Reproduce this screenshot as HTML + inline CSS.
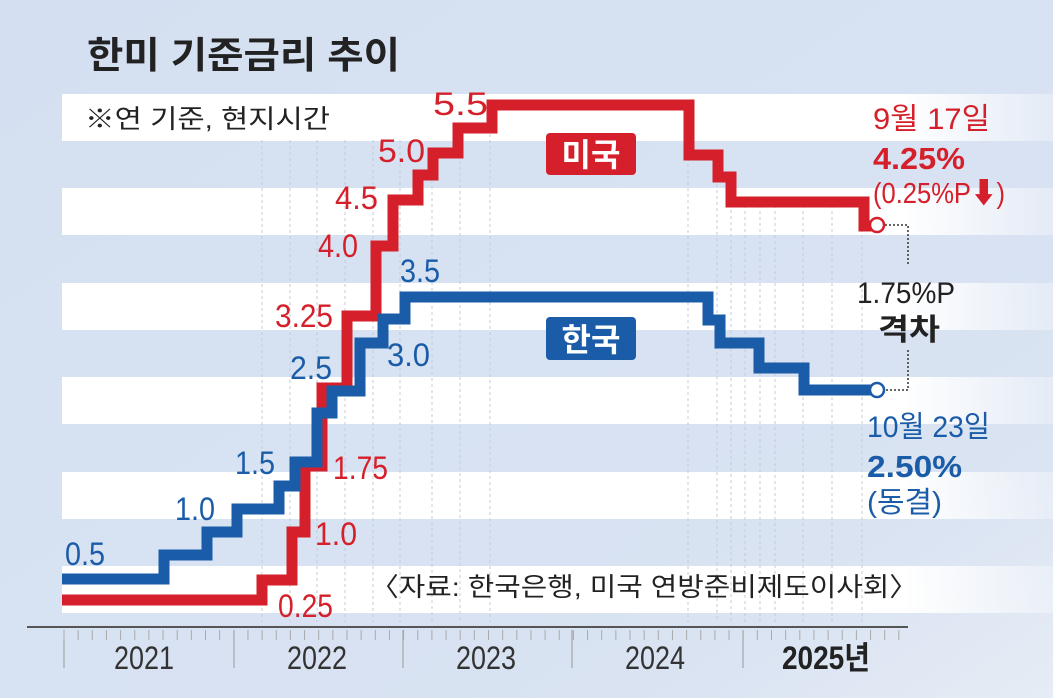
<!DOCTYPE html>
<html><head><meta charset="utf-8"><style>
html,body{margin:0;padding:0;width:1053px;height:698px;overflow:hidden;background:#d6e1f1}
svg{display:block}
.n{font-family:"Liberation Sans",sans-serif;font-size:32px}
.k{font-family:"Liberation Sans","Noto Sans CJK KR",sans-serif}
</style></head><body>
<svg width="1053" height="698" viewBox="0 0 1053 698" xmlns="http://www.w3.org/2000/svg">
<defs>
<linearGradient id="bg" x1="0" y1="0" x2="1" y2="1">
<stop offset="0" stop-color="#d4e0f1"/><stop offset="0.8" stop-color="#d9e3f2"/><stop offset="1" stop-color="#e6ecf5"/>
</linearGradient>
<linearGradient id="wb" x1="0" y1="0" x2="1" y2="0">
<stop offset="0" stop-color="#fff"/><stop offset="0.85" stop-color="#fff"/><stop offset="1" stop-color="#fff" stop-opacity="0.3"/>
</linearGradient>
</defs>
<rect width="1053" height="698" fill="url(#bg)"/>
<g fill="url(#wb)">
<rect x="62" y="94" width="991" height="47"/>
<rect x="62" y="188" width="991" height="47"/>
<rect x="62" y="283" width="991" height="47"/>
<rect x="62" y="377" width="991" height="47"/>
<rect x="62" y="472" width="991" height="47"/>
<rect x="62" y="566" width="991" height="47"/>
</g>
<g stroke="#c4ccd8" stroke-width="1" stroke-dasharray="3,3">
<line x1="262" y1="140" x2="262" y2="622"/><line x1="290" y1="140" x2="290" y2="622"/>
<line x1="317" y1="140" x2="317" y2="622"/><line x1="345" y1="140" x2="345" y2="622"/>
<line x1="373" y1="140" x2="373" y2="622"/><line x1="400" y1="140" x2="400" y2="622"/>
<line x1="432" y1="150" x2="432" y2="622"/><line x1="460" y1="125" x2="460" y2="622"/>
<line x1="490" y1="110" x2="490" y2="622"/><line x1="688" y1="110" x2="688" y2="622"/>
<line x1="717" y1="160" x2="717" y2="622"/><line x1="731" y1="180" x2="731" y2="622"/>
<line x1="745" y1="205" x2="745" y2="622"/><line x1="760" y1="205" x2="760" y2="622"/>
<line x1="775" y1="205" x2="775" y2="622"/><line x1="803" y1="205" x2="803" y2="622"/>
<line x1="832" y1="205" x2="832" y2="622"/><line x1="862" y1="205" x2="862" y2="622"/>
</g>
<line x1="27" y1="627" x2="908" y2="627" stroke="#555" stroke-width="2"/>
<g stroke="#999" stroke-width="1">
<line x1="64" y1="630" x2="64" y2="668"/><line x1="234" y1="630" x2="234" y2="668"/>
<line x1="403" y1="630" x2="403" y2="668"/><line x1="572" y1="630" x2="572" y2="668"/>
<line x1="743" y1="630" x2="743" y2="668"/>
</g>
<g stroke="#aaa" stroke-width="1" id="ticks"></g>
<path d="M62,600 H262 V580 H292 V532 H305 V466 H322 V388 H347 V316 H376 V246 H393 V200 H418 V175 H433 V153 H458 V128 H492 V105 H689 V155 H718 V177 H731 V202 H864 V226 H876" fill="none" stroke="#d5202b" stroke-width="11"/>
<path d="M62,579 H164 V555 H207 V532 H237 V509 H279 V486 H295 V462 H317 V413 H332 V391 H360 V343 H383 V319 H405 V297 H708 V320 H720 V343 H759 V368 H804 V390 H876" fill="none" stroke="#1a5ca8" stroke-width="11"/>
<circle cx="877" cy="225" r="7" fill="#fff" stroke="#d5202b" stroke-width="2.5"/>
<circle cx="877" cy="390" r="7" fill="#fff" stroke="#1a5ca8" stroke-width="2.5"/>
<path d="M885,225 H908 V265 M908,350 V390 H885" fill="none" stroke="#333" stroke-width="1.5" stroke-dasharray="2,2"/>
<text x="87" y="68" class="k" font-size="37" font-weight="bold" fill="#222" textLength="313" lengthAdjust="spacingAndGlyphs">한미 기준금리 추이</text>
<text x="85" y="128" class="k" font-size="26" fill="#222" textLength="245" lengthAdjust="spacingAndGlyphs">※연 기준, 현지시간</text>
<rect x="546" y="133" width="90" height="42" rx="4" fill="#d5202b"/>
<text x="591" y="166" text-anchor="middle" class="k" font-size="32" font-weight="bold" fill="#fff">미국</text>
<rect x="546" y="317" width="90" height="43" rx="4" fill="#1a5ca8"/>
<text x="591" y="351" text-anchor="middle" class="k" font-size="32" font-weight="bold" fill="#fff">한국</text>
<g class="n" fill="#d5202b" lengthAdjust="spacingAndGlyphs">
<text x="433" y="115" textLength="55" lengthAdjust="spacingAndGlyphs">5.5</text>
<text x="378" y="162" textLength="47" lengthAdjust="spacingAndGlyphs">5.0</text>
<text x="335" y="209" textLength="43" lengthAdjust="spacingAndGlyphs">4.5</text>
<text x="318" y="257" textLength="40" lengthAdjust="spacingAndGlyphs">4.0</text>
<text x="275" y="327" textLength="58" lengthAdjust="spacingAndGlyphs">3.25</text>
<text x="333" y="479" textLength="55" lengthAdjust="spacingAndGlyphs">1.75</text>
<text x="315" y="545" textLength="42" lengthAdjust="spacingAndGlyphs">1.0</text>
<text x="278" y="617" textLength="55" lengthAdjust="spacingAndGlyphs">0.25</text>
</g>
<g class="n" fill="#1a5ca8">
<text x="65" y="565" textLength="40" lengthAdjust="spacingAndGlyphs">0.5</text>
<text x="175" y="520" textLength="40" lengthAdjust="spacingAndGlyphs">1.0</text>
<text x="235" y="474" textLength="40" lengthAdjust="spacingAndGlyphs">1.5</text>
<text x="290" y="379" textLength="42" lengthAdjust="spacingAndGlyphs">2.5</text>
<text x="387" y="366" textLength="43" lengthAdjust="spacingAndGlyphs">3.0</text>
<text x="400" y="282" textLength="40" lengthAdjust="spacingAndGlyphs">3.5</text>
</g>
<text x="873" y="129" class="k" font-size="30" fill="#d5202b" textLength="117" lengthAdjust="spacingAndGlyphs">9월 17일</text>
<text x="873" y="169" class="k" font-size="31" font-weight="bold" fill="#d5202b" textLength="92" lengthAdjust="spacingAndGlyphs">4.25%</text>
<text x="873" y="203" class="k" font-size="29" fill="#d5202b" textLength="132" lengthAdjust="spacingAndGlyphs">(0.25%P⬇)</text>
<text x="857" y="303" class="k" font-size="30" fill="#222" textLength="98" lengthAdjust="spacingAndGlyphs">1.75%P</text>
<text x="878" y="340" class="k" font-size="30" font-weight="bold" fill="#222" textLength="62" lengthAdjust="spacingAndGlyphs">격차</text>
<text x="867" y="437" class="k" font-size="30" fill="#1a5ca8" textLength="123" lengthAdjust="spacingAndGlyphs">10월 23일</text>
<text x="867" y="477" class="k" font-size="31" font-weight="bold" fill="#1a5ca8" textLength="95" lengthAdjust="spacingAndGlyphs">2.50%</text>
<text x="867" y="512" class="k" font-size="29" fill="#1a5ca8" textLength="75" lengthAdjust="spacingAndGlyphs">(동결)</text>
<text x="370" y="596" class="k" font-size="26" fill="#222" textLength="548" lengthAdjust="spacingAndGlyphs">〈자료: 한국은행, 미국 연방준비제도이사회〉</text>
<g class="n" fill="#333">
<text x="114" y="669" textLength="60" lengthAdjust="spacingAndGlyphs">2021</text>
<text x="287" y="669" textLength="60" lengthAdjust="spacingAndGlyphs">2022</text>
<text x="456" y="669" textLength="60" lengthAdjust="spacingAndGlyphs">2023</text>
<text x="625" y="669" textLength="60" lengthAdjust="spacingAndGlyphs">2024</text>
<text x="782" y="669" class="k" font-weight="bold" fill="#222" textLength="88" lengthAdjust="spacingAndGlyphs">2025년</text>
</g>
</svg>
<script>
var g=document.getElementById('ticks');var s='';
for(var i=0;i<62;i++){var x=64+i*14.15;if(x>905)break;s+='<line x1="'+x+'" y1="630" x2="'+x+'" y2="640"/>';}
g.innerHTML=s;
</script>
</body></html>
